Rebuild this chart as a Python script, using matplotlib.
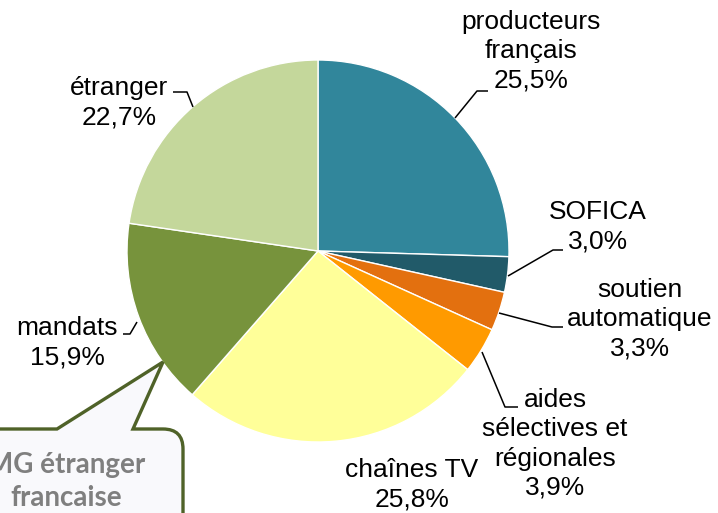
import numpy as np
import matplotlib
matplotlib.use("Agg")
import matplotlib.pyplot as plt
from matplotlib.path import Path
from matplotlib.patches import PathPatch

# data
labels = ["producteurs\nfrançais", "SOFICA", "soutien\nautomatique",
          "aides\nsélectives et\nrégionales", "chaînes TV", "mandats", "étranger"]
values = [25.5, 3.0, 3.3, 3.9, 25.8, 15.9, 22.7]
colors = ["#31869B", "#215A69", "#E3700F", "#FF9A00", "#FFFF99", "#77933C", "#C4D79B"]

W, H = 718, 513
fig = plt.figure(figsize=(W / 100, H / 100), dpi=100)
ax = fig.add_axes([0, 0, 1, 1])

def Y(y):
    # pixel row (from top) -> data y
    return H - y

cx, cy, r = 318, 251, 191
ax.pie(values, colors=colors, startangle=90, counterclock=False,
       center=(cx, Y(cy)), radius=r, frame=True,
       wedgeprops=dict(edgecolor="white", linewidth=1))
ax.set_xlim(0, W)
ax.set_ylim(0, H)
ax.axis("off")

plt.rcParams['font.family'] = ['Liberation Sans', 'DejaVu Sans']

# label text positions (center x, top line y) and leader lines (pixel coords)
label_pos = [(531, 10), (598, 200), (640, 278), (555, 388), (412, 458), (67, 316), (119, 76)]
leaders = [
    [(455, 118), (477, 91), (488, 91)],
    [(508, 276), (553, 250), (563, 250)],
    [(499, 313), (552, 327), (563, 327)],
    [(482, 352), (505, 407), (518, 407)],
    None,
    [(123, 334), (130, 334), (137, 322)],
    [(173, 92), (187, 92), (193, 107)],
]

for lab, v, (tx, ty), ld in zip(labels, values, label_pos, leaders):
    txt = f"{lab}\n{v:.1f}%".replace(".", ",")
    ax.text(tx, Y(ty), txt, ha="center", va="top", fontsize=19,
            linespacing=1.28, color="black")
    if ld is not None:
        xs = [p[0] for p in ld]
        ys = [Y(p[1]) for p in ld]
        ax.plot(xs, ys, color="black", lw=1.1, solid_capstyle="butt")

# callout box with pointer, partly cut by the figure edges
verts = [(-20, 429), (57, 429), (163, 362), (133, 429), (163, 429),
         (183, 429), (183, 449), (183, 540), (-20, 540), (-20, 429)]
codes = [Path.MOVETO, Path.LINETO, Path.LINETO, Path.LINETO, Path.LINETO,
         Path.CURVE3, Path.CURVE3, Path.LINETO, Path.LINETO, Path.CLOSEPOLY]
path = Path([(x, Y(y)) for x, y in verts], codes)
ax.add_patch(PathPatch(path, facecolor="#F9F9FC", edgecolor="#4F6228",
                       lw=2.4, joinstyle="miter", zorder=5, clip_on=False))
ax.text(66, Y(465), "MG étranger", ha="center", va="center", fontsize=20,
        fontweight="bold", color="#7F7F7F", family=["Lato", "DejaVu Sans"], zorder=6)
ax.text(66, Y(498), "francaise", ha="center", va="center", fontsize=20,
        fontweight="bold", color="#7F7F7F", family=["Lato", "DejaVu Sans"], zorder=6)

fig.savefig("out.png", dpi=100)
